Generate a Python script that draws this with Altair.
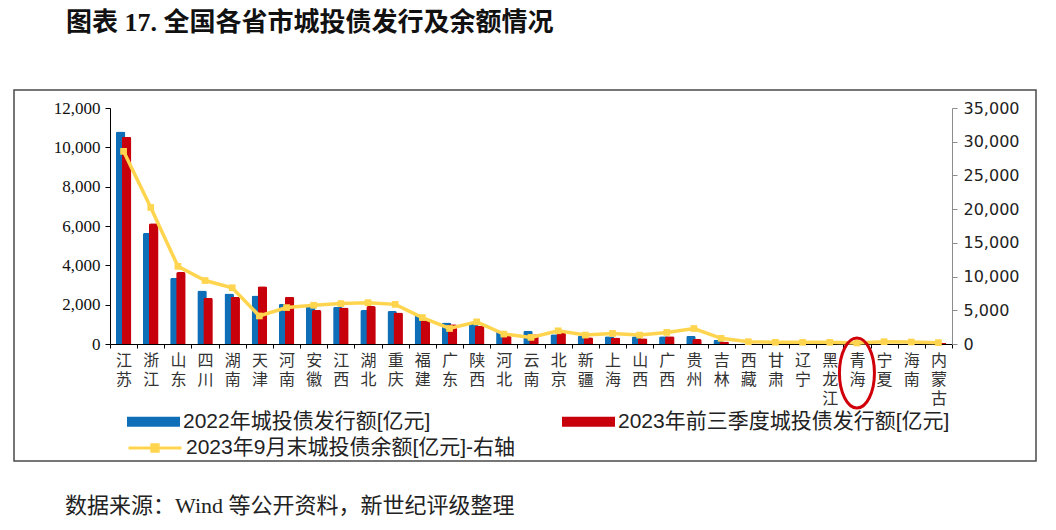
import altair as alt
import pandas as pd

# ---------------- data ----------------
provinces = ["江苏", "浙江", "山东", "四川", "湖南", "天津", "河南", "安徽", "江西", "湖北",
             "重庆", "福建", "广东", "陕西", "河北", "云南", "北京", "新疆", "上海", "山西",
             "广西", "贵州", "吉林", "西藏", "甘肃", "辽宁", "黑龙江", "青海", "宁夏", "海南", "内蒙古"]
issue_2022 = [10800, 5660, 3360, 2720, 2570, 2470, 2050, 2020, 1900, 1730,
              1680, 1480, 1090, 1090, 670, 670, 500, 420, 390, 390,
              390, 420, 220, 30, 40, 30, 20, 10, 15, 20, 20]
issue_2023q3 = [10540, 6140, 3660, 2350, 2400, 2940, 2400, 1730, 1850, 1930,
                1600, 1260, 1010, 920, 420, 500, 590, 340, 330, 290,
                390, 250, 130, 20, 30, 20, 10, 10, 10, 10, 60]
balance_2023_09 = [28570, 20250, 11520, 9410, 8340, 4160, 5400, 5740, 5990, 6130,
                   5880, 3920, 2300, 3280, 1470, 980, 1960, 1320, 1570, 1320,
                   1720, 2300, 840, 340, 250, 250, 250, 150, 340, 300, 200]

series_2022 = "2022年城投债发行额[亿元]"
series_2023 = "2023年前三季度城投债发行额[亿元]"
series_bal = "2023年9月末城投债余额[亿元]-右轴"
left_ticks = [0, 2000, 4000, 6000, 8000, 10000, 12000]
right_ticks = [0, 5000, 10000, 15000, 20000, 25000, 30000, 35000]
title_text = "图表 17. 全国各省市城投债发行及余额情况"
source_text = "数据来源：Wind 等公开资料，新世纪评级整理"
highlight = ["青海"]

BLUE = "#0E6FB8"
RED = "#C8000B"
YELLOW = "#FFD54F"
SANS = "Liberation Sans, Noto Sans CJK SC"
SERIF = "Liberation Serif, Noto Sans CJK SC"

df_bar = pd.DataFrame({
    "province": provinces * 2,
    "value": issue_2022 + issue_2023q3,
    "series": [series_2022] * len(provinces) + [series_2023] * len(provinces),
})
df_line = pd.DataFrame({"province": provinces, "balance": balance_2023_09,
                        "series": [series_bal] * len(provinces)})
df_hl = pd.DataFrame({"province": highlight})
df_title = pd.DataFrame({"t": [title_text]})
df_source = pd.DataFrame({"t": [source_text]})
df_one = pd.DataFrame({"a": [1]})

x_enc = alt.X(
    "province:N", sort=provinces,
    scale=alt.Scale(paddingInner=0, paddingOuter=0),
    axis=alt.Axis(title=None, labelAngle=0, labelExpr="split(datum.label, '')",
                  labelFont="Noto Sans CJK SC", labelFontSize=16, labelLineHeight=19,
                  labelColor="#333333", labelBaseline="top", labelPadding=4,
                  labelAlign="center", tickBand="extent", tickSize=4,
                  tickColor="#000000", domainColor="#000000"),
)
x_plain = alt.X("province:N", sort=provinces)

fill_scale = alt.Scale(domain=[series_2022, series_2023], range=[BLUE, RED])
bar_legend = alt.Legend(
    title=None, orient="none", legendX=17, legendY=287, columns=2, columnPadding=131,
    symbolType="M-1,-0.19L1,-0.19L1,0.19L-1,0.19Z", symbolSize=2809, symbolStrokeWidth=0,
    labelFont=SANS, labelFontSize=21, labelColor="#222222", labelOffset=3,
    labelLimit=600, padding=0)

y_left = alt.Y("value:Q", scale=alt.Scale(domain=[0, 12000]),
               axis=alt.Axis(title=None, values=left_ticks, format=",d", grid=False,
                             labelFont=SERIF, labelFontSize=17, labelColor="#111111",
                             tickSize=5, labelPadding=5, domainColor="#000000",
                             tickColor="#000000", orient="left"))
y_left_noaxis = alt.Y("value:Q", scale=alt.Scale(domain=[0, 12000]), axis=None)

bar_blue = alt.Chart(df_bar).transform_filter(alt.datum.series == series_2022).mark_bar(
    width=9.5, xOffset=-3, cornerRadiusTopLeft=2, cornerRadiusTopRight=2
).encode(x=x_enc, y=y_left,
         fill=alt.Fill("series:N", scale=fill_scale, legend=bar_legend))

bar_red = alt.Chart(df_bar).transform_filter(alt.datum.series == series_2023).mark_bar(
    width=9.5, xOffset=3, cornerRadiusTopLeft=2, cornerRadiusTopRight=2
).encode(x=x_plain, y=y_left_noaxis,
         fill=alt.Fill("series:N", scale=fill_scale, legend=bar_legend))

y_right = alt.Y("balance:Q", scale=alt.Scale(domain=[0, 35000]),
                axis=alt.Axis(title=None, values=right_ticks, format=",d", grid=False,
                              orient="right", labelFont="DejaVu Sans", labelFontSize=16,
                              labelColor="#222222", tickSize=5, labelPadding=6,
                              domainColor="#8c8c8c", tickColor="#8c8c8c"))
y_right_noaxis = alt.Y("balance:Q", scale=alt.Scale(domain=[0, 35000]), axis=None)

line = alt.Chart(df_line).mark_line(strokeWidth=3.5).encode(
    x=x_plain, y=y_right,
    stroke=alt.Stroke("series:N", scale=alt.Scale(domain=[series_bal], range=[YELLOW]),
                      legend=alt.Legend(
                          title=None, orient="none", legendX=17, legendY=312,
                          symbolType="M-1,0L1,0M-0.12,-0.12L0.12,-0.12L0.12,0.12L-0.12,0.12Z",
                          symbolSize=2809, symbolStrokeWidth=3,
                          symbolFillColor=YELLOW, symbolStrokeColor=YELLOW,
                          labelFont=SANS, labelFontSize=21, labelColor="#222222",
                          labelOffset=3, labelLimit=600, padding=0)),
)
points = alt.Chart(df_line).mark_point(shape="square", filled=True, size=45,
                                       color=YELLOW, opacity=1).encode(
    x=x_plain, y=y_right_noaxis)

box = alt.Chart(df_one).mark_rect(fillOpacity=0, stroke="#4a4a4a", strokeWidth=1.5).encode(
    x=alt.value(-96), x2=alt.value(926), y=alt.value(-18), y2=alt.value(353))

ellipse_path = ("M0,-1C0.276,-1 0.5,-0.552 0.5,0C0.5,0.552 0.276,1 0,1"
                "C-0.276,1 -0.5,0.552 -0.5,0C-0.5,-0.552 -0.276,-1 0,-1Z")
ellipse = alt.Chart(df_hl).mark_point(shape=ellipse_path, size=4900, filled=False,
                                      stroke="#D0000A", strokeWidth=3, opacity=1).encode(
    x=x_plain, y=alt.value(265))

title = alt.Chart(df_title).mark_text(align="left", baseline="alphabetic", fontSize=26,
                                      fontWeight="bold", font=SERIF, color="#111111").encode(
    x=alt.value(-44), y=alt.value(-77), text="t:N")
source = alt.Chart(df_source).mark_text(align="left", baseline="alphabetic", fontSize=22,
                                        font=SERIF, color="#222222").encode(
    x=alt.value(-45), y=alt.value(405), text="t:N")

chart = alt.layer(box, bar_blue, bar_red, line, points, ellipse, title, source).resolve_scale(
    y="independent"
).properties(
    width=842, height=236,
    autosize=alt.AutoSizeParams(type="none"),
    padding={"left": 102, "top": 100, "right": 96, "bottom": 178},
    background="white",
).configure_view(stroke=None)

chart.save("out.html", embed_options={"renderer": "svg", "actions": False})
